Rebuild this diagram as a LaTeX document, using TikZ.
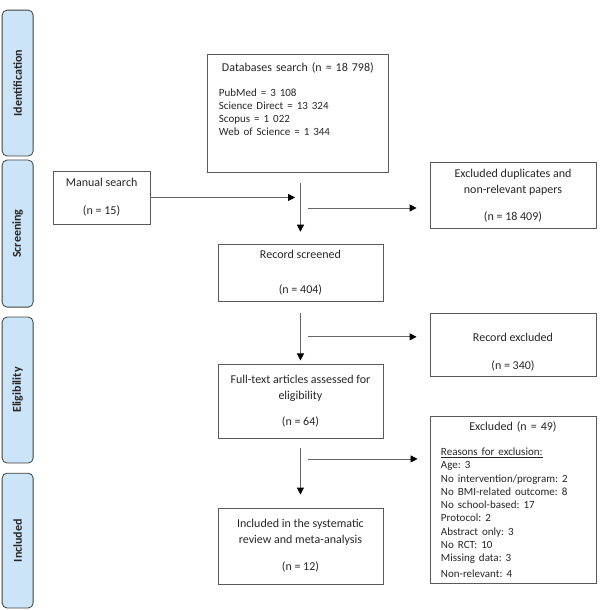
\documentclass[tikz,border=0pt]{standalone}
\usepackage{fontspec}
\setmainfont{Carlito}
\frenchspacing
\usetikzlibrary{arrows.meta}
\usetikzlibrary{calc}
\definecolor{stagefill}{RGB}{204,228,247}

\begin{document}
\begin{tikzpicture}[
	box/.style={draw=black!65, line width=0.8pt, rectangle, text=black!85, align=center, font=\fontsize{12}{16}\selectfont},
	stage/.style={draw=black!75, line width=0.8pt, fill=stagefill, rectangle, rounded corners=5pt, rotate=90, minimum height=1.09cm, text=black!85, font=\fontsize{12}{14}\selectfont\bfseries},
	flow/.style={draw=black!60, line width=0.8pt},
	>={Triangle[length=7pt, width=7pt, color=black]}
	]
	
	\useasboundingbox (0, 0) rectangle (21.12, -21.44);
	
	\foreach \lbl/\y/\h [count=\i] in {Identification/-2.92/5.13, Screening/-8.21/5.17, Eligibility/-13.71/5.13, Included/-19.00/4.74}{
		\node [stage, minimum width=\h cm] at (0.62, \y) (stage\i){\lbl};
	}
	
	\node [box, minimum width=6.33cm, minimum height=4.15cm, text width=158pt, inner xsep=11pt, align=left] at (10.47, -3.97) (db_search){\makebox[\hsize]{Databases search (n = 18 798)}\\[11pt]\fontsize{11}{13.3}\selectfont PubMed = 3 108\\Science Direct = 13 324\\Scopus = 1 022\\Web of Science = 1 344\\[11pt]\mbox{}};
	\node [box, minimum width=3.41cm, minimum height=1.86cm] at (3.57, -6.94) (manual_search){Manual search\\[12pt](n = 15)};
	\node [box, minimum width=5.83cm, minimum height=2.35cm] at (18.03, -6.87) (excluded_dupl){Excluded duplicates and\\non-relevant papers\\[11pt](n = 18 409)};
	
	\node [box, minimum width=5.80cm, minimum height=2.00cm] at (10.56, -9.58) (record_screened){Record screened\\[19pt](n = 404)};
	\node [box, minimum width=5.83cm, minimum height=2.21cm] at (18.03, -12.11) (record_excluded){\mbox{}\\[8pt]Record excluded\\[12pt](n = 340)};
	
	\node [box, minimum width=5.80cm, minimum height=2.57cm] at (10.56, -14.11) (fulltext){Full-text articles assessed for\\eligibility\\[10pt](n = 64)};
	\node [box, minimum width=5.83cm, minimum height=5.90cm, text width=144pt, inner xsep=11pt, align=left] at (18.03, -17.57) (excluded_full){\makebox[\hsize]{Excluded (n = 49)}\\[11.5pt]\fontsize{11}{13.3}\selectfont\underline{Reasons for exclusion:}\\Age: 3\\No intervention/program: 2\\No BMI-related outcome: 8\\No school-based: 17\\Protocol: 2\\Abstract only: 3\\No RCT: 10\\Missing data: 3\\Non-relevant: 4};
	
	\node [box, minimum width=5.80cm, minimum height=2.67cm] at (10.56, -19.19) (included){Included in the systematic\\review and meta-analysis\\[11pt](n = 12)};
	
	\coordinate (join1) at (10.37, -6.94);
	\coordinate (split1) at (10.83, -7.31);
	\coordinate (split2) at (10.83, -11.84);
	\coordinate (split3) at (10.83, -16.13);
	
	\draw [->, flow, shorten <=11pt, shorten >=12pt] (db_search.south -| record_screened) -- (record_screened);
	\draw [->, flow] (manual_search) -- (join1);
	\draw [->, flow, shorten >=13pt] (split1) -- (split1 -| excluded_dupl.west);
	
	\draw [->, flow, shorten <=12pt, shorten >=4pt] (record_screened) -- (fulltext);
	\draw [->, flow, shorten >=13pt] (split2) -- (split2 -| record_excluded.west);
	
	\draw [->, flow, shorten <=10pt, shorten >=13pt] (fulltext) -- (included);
	\draw [->, flow, shorten >=12pt] (split3) -- (split3 -| excluded_full.west);
	
\end{tikzpicture}
\end{document}
